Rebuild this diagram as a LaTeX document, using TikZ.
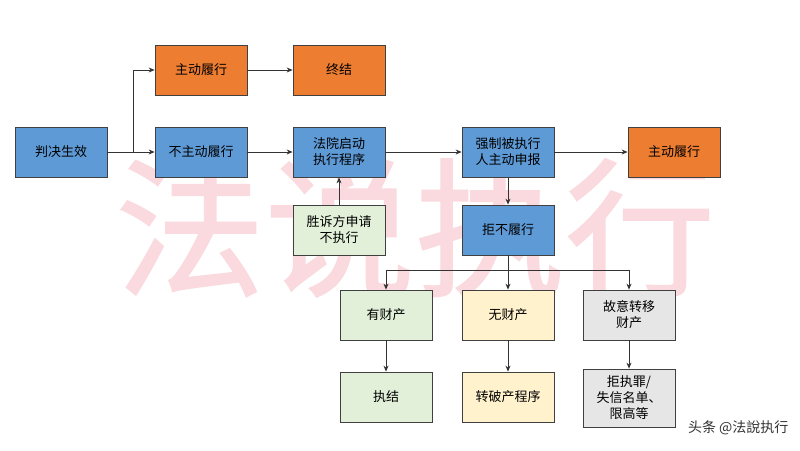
\documentclass[tikz,border=0pt]{standalone}
\usepackage{fontspec}
\setmainfont{Noto Sans CJK SC}
\usetikzlibrary{arrows.meta}
\begin{document}
\begin{tikzpicture}[x=1pt,y=-1pt,
  box/.style={draw=black!75,line width=0.8pt,minimum width=92pt,minimum height=50pt,align=center,font=\fontsize{13}{16}\selectfont,inner sep=2pt},
  blue/.style={box,fill={rgb,255:red,94;green,154;blue,214}},
  orng/.style={box,fill={rgb,255:red,237;green,125;blue,49}},
  grn/.style={box,fill={rgb,255:red,226;green,240;blue,217}},
  yel/.style={box,fill={rgb,255:red,255;green,242;blue,204}},
  gry/.style={box,fill={rgb,255:red,231;green,230;blue,230}},
  arr/.style={draw=black!80,line width=0.8pt,-{Stealth[length=6pt,width=5pt]}},
  ln/.style={draw=black!80,line width=0.8pt}]
\useasboundingbox (0,0) rectangle (800,450);
\fill[white] (0,0) rectangle (800,450);
\node[text={rgb,255:red,250;green,218;blue,222},font=\fontsize{150}{155}\selectfont\addfontfeature{FakeBold=1}] (wm) at (415,228) {法说执行};
\node[blue] (a) at (61,152) {判决生效};
\node[orng] (b) at (201,70) {主动履行};
\node[orng] (c) at (339,70) {终结};
\node[blue] (d) at (201,152) {不主动履行};
\node[blue] (e) at (339,152) {法院启动\\执行程序};
\node[grn] (f) at (339,230) {胜诉方申请\\不执行};
\node[blue] (g) at (508,152) {强制被执行\\人主动申报};
\node[orng] (h) at (674,152) {主动履行};
\node[blue] (i) at (508,230) {拒不履行};
\node[grn] (j) at (386,315) {有财产};
\node[yel] (k) at (508,315) {无财产};
\node[gry] (l) at (629,315) {故意转移\\财产};
\node[grn] (m) at (386,397) {执结};
\node[yel] (n) at (508,397) {转破产程序};
\node[gry,minimum height=58pt] (o) at (629,398) {拒执罪/\\失信名单、\\限高等};
\coordinate (s1) at (133,152);
\coordinate (s2) at (508,270);
\draw[ln] (a) -- (s1);
\draw[arr] (s1) |- (b);
\draw[arr] (s1) -- (d);
\draw[arr] (b) -- (c);
\draw[arr] (d) -- (e);
\draw[arr] (f) -- (e);
\draw[arr] (e) -- (g);
\draw[arr] (g) -- (h);
\draw[arr] (g) -- (i);
\draw[ln] (i) -- (s2);
\draw[arr] (s2) -| (j);
\draw[arr] (s2) -- (k);
\draw[arr] (s2) -| (l);
\draw[arr] (j) -- (m);
\draw[arr] (k) -- (n);
\draw[arr] (l) -- (o);
\node[text=black!80,font=\fontsize{14}{16}\selectfont,anchor=east] (wm2) at (792,428) {头条 @法說执行};
\end{tikzpicture}
\end{document}
